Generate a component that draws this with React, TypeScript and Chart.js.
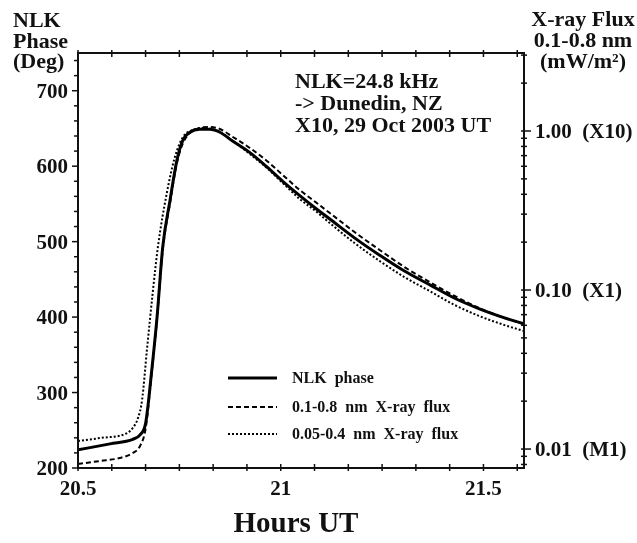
import React, { useEffect, useRef } from "react";
import { Chart, registerables } from "chart.js";

Chart.register(...registerables);

// NLK phase (degrees), left axis
const phaseTimes = [20.5, 20.579, 20.635, 20.653, 20.667, 20.682, 20.695, 20.709, 20.727, 20.744, 20.759, 20.776, 20.8, 20.825, 20.85, 20.882, 20.924, 20.966, 21.005, 21.047, 21.089, 21.121, 21.182, 21.244, 21.305, 21.367, 21.429, 21.49, 21.552, 21.6];
const phaseDeg = [224, 232, 238, 244, 260, 330, 400, 493, 555, 608, 635, 645, 649, 649, 645, 633, 618, 599, 580, 561, 543, 530, 505, 482, 461, 443, 425, 411, 399, 391];

// 0.1-0.8 nm X-ray flux (mW/m2), right log axis
const hardTimes = [20.5, 20.554, 20.603, 20.635, 20.653, 20.667, 20.682, 20.695, 20.709, 20.727, 20.744, 20.759, 20.776, 20.8, 20.825, 20.85, 20.882, 20.924, 20.966, 21.005, 21.047, 21.089, 21.121, 21.182, 21.244, 21.305, 21.367, 21.429, 21.49, 21.552, 21.6];
const hardFlux = [0.00805, 0.00841, 0.00878, 0.00944, 0.01045, 0.01356, 0.0305, 0.0667, 0.179, 0.352, 0.629, 0.84, 0.971, 1.044, 1.06, 1.029, 0.917, 0.782, 0.648, 0.529, 0.4255, 0.3525, 0.305, 0.2316, 0.1785, 0.1395, 0.1123, 0.0917, 0.077, 0.0667, 0.0611];

// 0.05-0.4 nm X-ray flux (scaled), right log axis
const softTimes = [20.5, 20.554, 20.621, 20.635, 20.648, 20.658, 20.67, 20.685, 20.697, 20.719, 20.739, 20.759, 20.783, 20.813, 20.845, 20.882, 20.924, 20.966, 21.005, 21.047, 21.089, 21.121, 21.182, 21.244, 21.305, 21.367, 21.429, 21.49, 21.552, 21.6];
const softFlux = [0.01122, 0.01173, 0.0126, 0.01356, 0.01567, 0.0203, 0.042, 0.1, 0.186, 0.407, 0.686, 0.917, 1.015, 1.044, 1.0, 0.865, 0.717, 0.585, 0.471, 0.3736, 0.3094, 0.2638, 0.1975, 0.1522, 0.1207, 0.0986, 0.0805, 0.0686, 0.0602, 0.0552];

const xTickValues = [20.5, 21, 21.5];
const xTickLabels = ["20.5", "21", "21.5"];
const leftTickValues = [200, 300, 400, 500, 600, 700];
const rightTickValues = [0.01, 0.1, 1];
const rightTickLabels = ["0.01  (M1)", "0.10  (X1)", "1.00  (X10)"];
const leftTitle = ["NLK", "Phase", "(Deg)"];
const rightTitle = ["X-ray Flux", "0.1-0.8 nm", "(mW/m\u00B2)"];
const annotation = ["NLK=24.8 kHz", "-> Dunedin, NZ", "X10, 29 Oct 2003 UT"];
const legendLabels = ["NLK  phase", "0.1-0.8  nm  X-ray  flux", "0.05-0.4  nm  X-ray  flux"];
const xTitle = "Hours UT";

const SERIF = '"Liberation Serif", "Times New Roman", serif';
const INK = "#111";

const decor = {
  id: "decor",
  afterDatasetsDraw(chart: any) {
    const ctx = chart.ctx as CanvasRenderingContext2D;
    const a = chart.chartArea;
    const x = chart.scales.x;
    const y = chart.scales.y;
    const y2 = chart.scales.y2;
    const line = (x1: number, y1: number, x2: number, y2_: number) => {
      ctx.beginPath();
      ctx.moveTo(x1, y1);
      ctx.lineTo(x2, y2_);
      ctx.stroke();
    };
    ctx.save();
    ctx.strokeStyle = INK;
    ctx.fillStyle = INK;
    ctx.setLineDash([]);
    ctx.lineWidth = 2;
    ctx.strokeRect(a.left, a.top, a.right - a.left, a.bottom - a.top);

    ctx.lineWidth = 1.5;
    // left ticks
    for (let v = 200; v <= 750; v += 20) {
      const p = y.getPixelForValue(v);
      const L = v % 100 === 0 ? 6 : 4;
      line(a.left - L, p, a.left, p);
    }
    // bottom & top ticks (every 5 minutes)
    for (let i = 0; ; i++) {
      const v = 20.5 + i / 12;
      if (v > 21.6 + 1e-6) break;
      const p = x.getPixelForValue(v);
      line(p, a.bottom - 4, p, a.bottom + 3);
      line(p, a.top - 3, p, a.top + 4);
    }
    // right log ticks
    for (let d = -3; d <= 0; d++) {
      for (let k = 1; k <= 9; k++) {
        const v = k * Math.pow(10, d);
        if (v < y2.min || v > y2.max) continue;
        const p = y2.getPixelForValue(v);
        if (k === 1) line(a.right - 3, p, a.right + 7, p);
        else line(a.right - 3, p, a.right + 3, p);
      }
    }

    // tick labels
    ctx.font = `bold 21px ${SERIF}`;
    ctx.textBaseline = "alphabetic";
    ctx.textAlign = "right";
    leftTickValues.forEach((v) => {
      const p = y.getPixelForValue(v);
      ctx.fillText(String(v), a.left - 10, p + 7);
    });
    ctx.textAlign = "center";
    xTickValues.forEach((v, i) => {
      const p = x.getPixelForValue(v);
      ctx.fillText(xTickLabels[i], p, a.bottom + 27);
    });
    ctx.textAlign = "left";
    rightTickValues.forEach((v, i) => {
      const p = y2.getPixelForValue(v);
      ctx.fillText(rightTickLabels[i], a.right + 11, p + 7);
    });

    // axis titles
    ctx.font = `bold 22px ${SERIF}`;
    ctx.textAlign = "left";
    leftTitle.forEach((t, i) => ctx.fillText(t, 13, 27 + i * 20.5));
    ctx.textAlign = "center";
    rightTitle.forEach((t, i) => ctx.fillText(t, 583, 26 + i * 21));
    ctx.font = `bold 29px ${SERIF}`;
    ctx.fillText(xTitle, 296, 532);

    // annotation
    ctx.font = `bold 22px ${SERIF}`;
    ctx.textAlign = "left";
    annotation.forEach((t, i) => ctx.fillText(t, 295, 88 + i * 22));

    // legend
    const ds = chart.data.datasets;
    const rows = [378, 407, 434];
    ctx.font = `bold 16px ${SERIF}`;
    rows.forEach((ry, i) => {
      const d = ds[i];
      ctx.save();
      ctx.lineWidth = d.borderWidth;
      ctx.setLineDash(d.borderDash || []);
      ctx.strokeStyle = d.borderColor;
      line(228, ry, 277, ry);
      ctx.restore();
      ctx.fillText(legendLabels[i], 292, ry + 5);
    });
    ctx.restore();
  },
};

export default function App() {
  const ref = useRef<HTMLCanvasElement>(null);
  useEffect(() => {
    const chart = new Chart(ref.current as HTMLCanvasElement, {
      type: "line",
      data: {
        datasets: [
          {
            label: legendLabels[0],
            data: phaseTimes.map((t, i) => ({ x: t, y: phaseDeg[i] })),
            yAxisID: "y",
            borderColor: "#000",
            borderWidth: 3,
            pointRadius: 0,
            cubicInterpolationMode: "monotone",
            fill: false,
            order: 0,
          },
          {
            label: legendLabels[1],
            data: hardTimes.map((t, i) => ({ x: t, y: hardFlux[i] })),
            yAxisID: "y2",
            borderColor: "#000",
            borderWidth: 2,
            borderDash: [5, 3],
            pointRadius: 0,
            cubicInterpolationMode: "monotone",
            fill: false,
            order: 1,
          },
          {
            label: legendLabels[2],
            data: softTimes.map((t, i) => ({ x: t, y: softFlux[i] })),
            yAxisID: "y2",
            borderColor: "#000",
            borderWidth: 2,
            borderDash: [2, 2],
            pointRadius: 0,
            cubicInterpolationMode: "monotone",
            fill: false,
            order: 2,
          },
        ] as any,
      },
      options: {
        responsive: false,
        animation: false,
        devicePixelRatio: 1,
        layout: { padding: { top: 53, left: 0, right: 0, bottom: 0 } },
        plugins: { legend: { display: false }, tooltip: { enabled: false } },
        scales: {
          x: {
            type: "linear",
            min: 20.5,
            max: 21.6,
            ticks: { display: false },
            grid: { display: false, drawTicks: false },
            border: { display: false },
            afterFit: (s: any) => {
              s.height = 75;
            },
          },
          y: {
            type: "linear",
            position: "left",
            min: 200,
            max: 750,
            ticks: { display: false },
            grid: { display: false, drawTicks: false },
            border: { display: false },
            afterFit: (s: any) => {
              s.width = 78;
            },
          },
          y2: {
            type: "logarithmic",
            position: "right",
            min: 0.0076,
            max: 3.094,
            ticks: { display: false },
            grid: { display: false, drawTicks: false },
            border: { display: false },
            afterFit: (s: any) => {
              s.width = 113;
            },
          },
        } as any,
      },
      plugins: [decor],
    });
    return () => chart.destroy();
  }, []);
  return (
    <div style={{ position: "fixed", left: 0, top: 0, width: 637, height: 543, background: "#fff" }}>
      <canvas ref={ref} width={637} height={543} style={{ display: "block" }} />
    </div>
  );
}
